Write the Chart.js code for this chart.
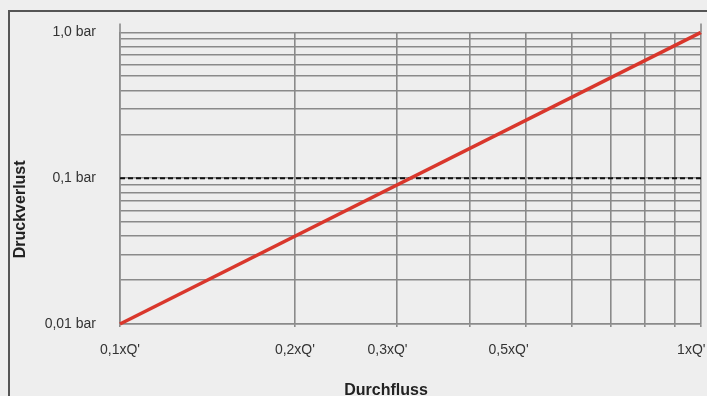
<!DOCTYPE html>
<html>
<head>
<meta charset="utf-8">
<script src="https://cdn.jsdelivr.net/npm/chart.js@4.4.1/dist/chart.umd.min.js"></script>
<style>
  html, body { margin: 0; padding: 0; background: #eeeeee; }
  #wrap { position: relative; width: 707px; height: 396px; overflow: hidden; }
  #frame { position: absolute; left: 8px; top: 10px; right: -10px; bottom: -10px;
           border-top: 2px solid #555; border-left: 2px solid #555; }
  canvas { position: absolute; left: 0; top: 0; }
</style>
</head>
<body>
<div id="wrap">
  <div id="frame"></div>
  <canvas id="myChart" width="707" height="396"></canvas>
</div>
<script>
// data
var flow = [0.1, 1];            // x in Q'
var pressureLoss = [0.01, 1];   // y in bar
var refLevel = 0.1;             // dashed line
var xTickValues = [0.1, 0.2, 0.3, 0.5, 1];
var xTickLabels = ["0,1xQ'", "0,2xQ'", "0,3xQ'", "0,5xQ'", "1xQ'"];
var yTickValues = [0.01, 0.1, 1];
var yTickLabels = ["0,01 bar", "0,1 bar", "1,0 bar"];

var gridColor = "#8a8a8a";
// trailing spaces nudge some labels left like in the original
var xLabelPad = [0, 0, 5, 9, 5];

function findTick(list, v) {
  for (var i = 0; i < list.length; i++) {
    if (Math.abs(list[i] - v) / list[i] < 1e-6) return i;
  }
  return -1;
}
function pad(n) { return new Array(n + 1).join("\u00a0"); }

// keep only 1..9 x 10^n grid lines
function decadeTicks(scale) {
  scale.ticks = scale.ticks.filter(function(t) {
    var m = t.value / Math.pow(10, Math.floor(Math.log10(t.value) + 1e-9));
    return Math.abs(m - Math.round(m)) < 1e-6;
  });
}

// axis end lines reach a bit above the plot
var edgeLines = {
  id: "edgeLines",
  afterDraw: function(chart) {
    var ctx = chart.ctx, x = chart.scales.x, a = chart.chartArea;
    ctx.save();
    ctx.strokeStyle = gridColor;
    ctx.lineWidth = 1.6;
    [x.min, x.max].forEach(function(v) {
      var px = x.getPixelForValue(v);
      ctx.beginPath();
      ctx.moveTo(px, a.top - 9);
      ctx.lineTo(px, a.top);
      ctx.stroke();
    });
    ctx.restore();
  }
};

Chart.defaults.font.family = "'Liberation Sans', Arial, sans-serif";

new Chart("myChart", {
  type: "scatter",
  data: {
    datasets: [{
      data: flow.map(function(v, i) { return {x: v, y: pressureLoss[i]}; }),
      showLine: true,
      borderColor: "#d9372c",
      borderWidth: 3.5,
      pointRadius: 0,
      clip: false
    }, {
      data: flow.map(function(v) { return {x: v, y: refLevel}; }),
      showLine: true,
      borderColor: "#111",
      borderWidth: 2,
      borderDash: [5, 3],
      pointRadius: 0,
      clip: false
    }]
  },
  options: {
    responsive: false,
    animation: false,
    devicePixelRatio: 1,
    layout: {padding: {left: 8, top: 28, right: 6, bottom: 0}},
    plugins: {legend: {display: false}, tooltip: {enabled: false}},
    scales: {
      x: {
        type: "logarithmic",
        min: 0.1,
        max: 1,
        afterBuildTicks: decadeTicks,
        afterFit: function(s) { s.height = 72; s.paddingRight = 0; },
        border: {color: gridColor, width: 1.6},
        grid: {color: gridColor, lineWidth: 1.6, tickLength: 3},
        ticks: {
          autoSkip: false,
          maxRotation: 0,
          padding: 15,
          color: "#333",
          font: {size: 14},
          callback: function(v) {
            var i = findTick(xTickValues, v);
            return i < 0 ? "" : xTickLabels[i] + pad(xLabelPad[i]);
          }
        },
        title: {
          display: true,
          text: "Durchfluss" + pad(11),
          color: "#222",
          font: {size: 16, weight: "bold"},
          padding: {top: 0, bottom: -4}
        }
      },
      y: {
        type: "logarithmic",
        min: 0.01,
        max: 1,
        afterBuildTicks: decadeTicks,
        afterFit: function(s) { s.width = 112; },
        border: {color: gridColor, width: 1.6},
        grid: {color: gridColor, lineWidth: 1.6, drawTicks: false},
        ticks: {
          autoSkip: false,
          padding: 24,
          color: "#333",
          font: {size: 14},
          callback: function(v) {
            var i = findTick(yTickValues, v);
            return i < 0 ? "" : yTickLabels[i];
          }
        },
        title: {
          display: true,
          text: "Druckverlust" + pad(14),
          color: "#222",
          font: {size: 16, weight: "bold"},
          padding: {top: 3, bottom: 0}
        }
      }
    }
  },
  plugins: [edgeLines]
});
</script>
</body>
</html>
